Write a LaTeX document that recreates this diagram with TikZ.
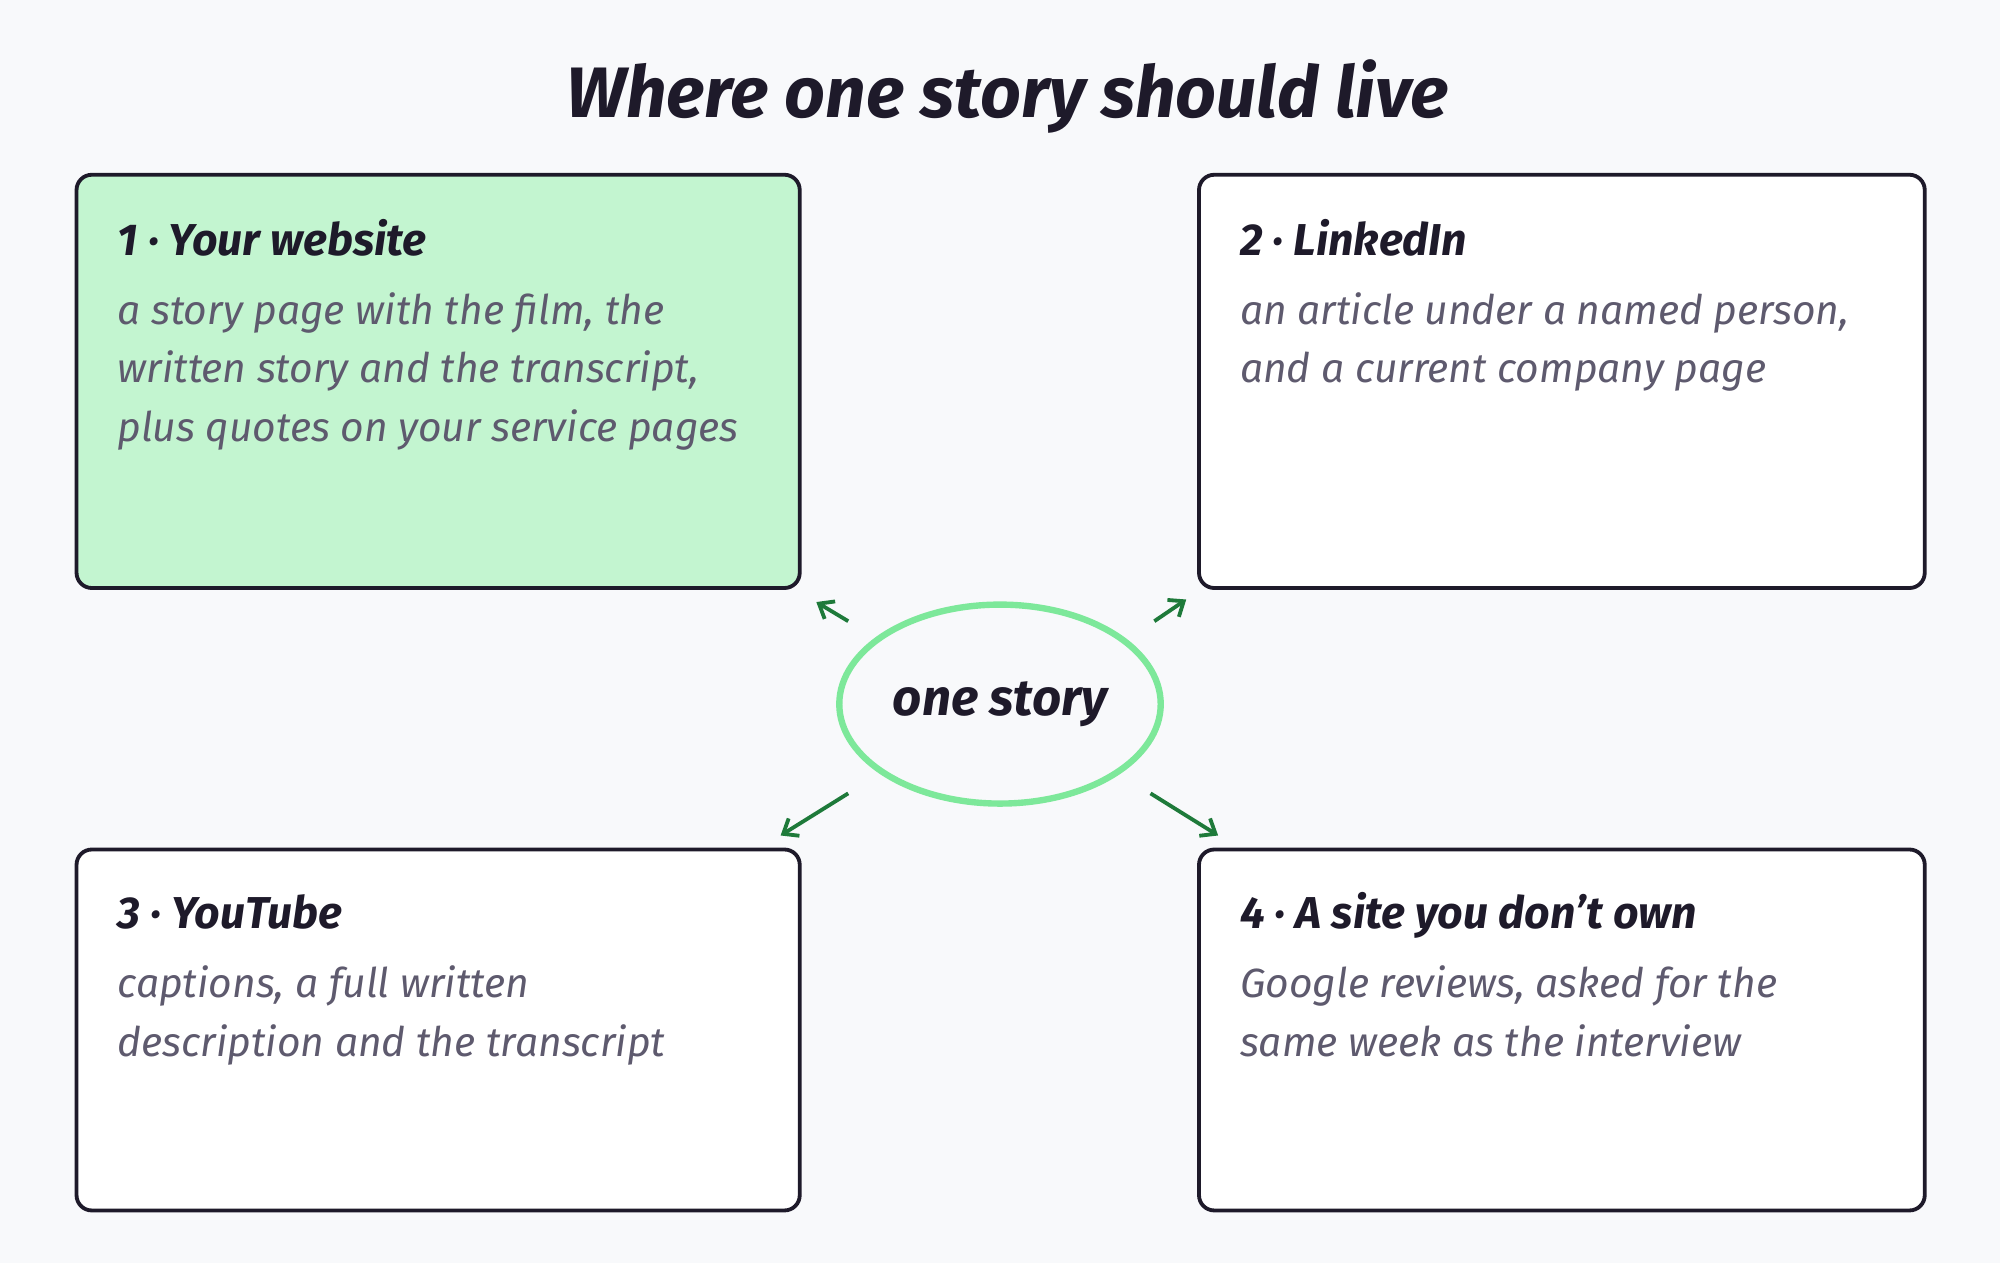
\documentclass[tikz,border=0pt]{standalone}
\usepackage{fontspec}
\setmainfont{Fira Sans}
\usetikzlibrary{shapes.geometric,arrows.meta}
\definecolor{ink}{HTML}{1E1A2A}
\definecolor{sub}{HTML}{5E5A6E}
\definecolor{gfill}{HTML}{C3F5D0}
\definecolor{gring}{HTML}{7DE89A}
\definecolor{garrow}{HTML}{1E7A3A}
\definecolor{bg}{HTML}{F8F9FB}
\begin{document}
\begin{tikzpicture}[x=1pt,y=-1pt,
  box/.style={draw=ink,line width=3pt,rounded corners=12pt},
  head/.style={anchor=base west,font=\fontsize{35}{40}\selectfont\bfseries\itshape,text=ink,inner sep=0},
  body/.style={anchor=north west,font=\fontsize{32}{46}\selectfont\itshape,text=sub,inner sep=0,align=left},
  arr/.style={draw=garrow,line width=3pt,-{Straight Barb[length=10pt,width=16pt]}}]
\fill[bg] (0,0) rectangle (1568,990);
\useasboundingbox (0,0) rectangle (1568,990);
\node[anchor=base,font=\fontsize{56}{60}\selectfont\bfseries\itshape,text=ink] (title) at (790,92) {Where one story should live};
\draw[box,fill=gfill] (60,137) rectangle (627,461);
\draw[box,fill=white] (940,137) rectangle (1509,461);
\draw[box,fill=white] (60,666) rectangle (627,949);
\draw[box,fill=white] (940,666) rectangle (1509,949);
\node[head] (h1) at (92,200) {1 · Your website};
\node[body] (t1) at (92,229) {a story page with the film, the\\written story and the transcript,\\plus quotes on your service pages};
\node[head] (h2) at (972,200) {2 · LinkedIn};
\node[body] (t2) at (972,229) {an article under a named person,\\and a current company page};
\node[head] (h3) at (92,728) {3 · YouTube};
\node[body] (t3) at (92,757) {captions, a full written\\description and the transcript};
\node[head] (h4) at (972,728) {4 · A site you don’t own};
\node[body] (t4) at (972,757) {Google reviews, asked for the\\same week as the interview};
\node[ellipse,draw=gring,line width=5pt,minimum width=252pt,minimum height=156pt,font=\fontsize{40}{44}\selectfont\bfseries\itshape,text=ink] (story) at (784,552) {one story};
\coordinate (s1) at (665,487);
\coordinate (s2) at (905,487);
\coordinate (s3) at (665,622);
\coordinate (s4) at (902,622);
\coordinate (a1) at (640,472);
\coordinate (a2) at (930,470);
\coordinate (a3) at (612,655);
\coordinate (a4) at (955,655);
\draw[arr] (s1) -- (a1);
\draw[arr] (s2) -- (a2);
\draw[arr] (s3) -- (a3);
\draw[arr] (s4) -- (a4);
\end{tikzpicture}
\end{document}
